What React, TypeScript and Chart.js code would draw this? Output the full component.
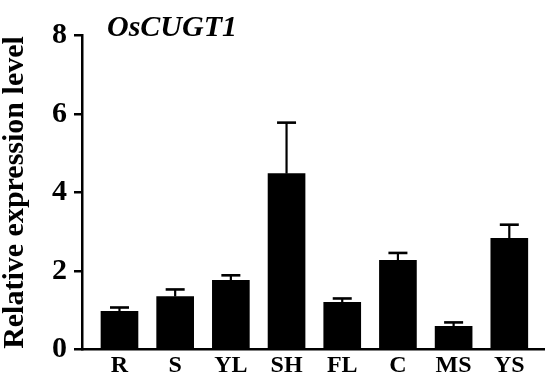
import React, { useEffect, useRef } from "react";
import { Chart, registerables } from "chart.js";

Chart.register(...registerables);

const categories = ["R", "S", "YL", "SH", "FL", "C", "MS", "YS"];
const values = [0.975, 1.35, 1.76, 4.48, 1.2, 2.27, 0.59, 2.83];
const errors = [0.095, 0.18, 0.13, 1.3, 0.1, 0.19, 0.1, 0.35];
const yTicks = [0, 2, 4, 6, 8];
const chartTitle = "OsCUGT1";
const yTitle = "Relative expression level";

const W = 545;
const H = 379;
const SERIF = "'Liberation Serif', 'Times New Roman', serif";

const errorBarPlugin = {
  id: "errorBars",
  afterDatasetsDraw(chart: any) {
    const ctx = chart.ctx;
    const xs = chart.scales.x;
    const ys = chart.scales.y;
    ctx.save();
    ctx.strokeStyle = "#000";
    values.forEach((v, i) => {
      const x = xs.getPixelForValue(i);
      const yb = ys.getPixelForValue(v);
      const yt = ys.getPixelForValue(v + errors[i]);
      ctx.lineWidth = 2.2;
      ctx.beginPath();
      ctx.moveTo(x, yb);
      ctx.lineTo(x, yt);
      ctx.stroke();
      ctx.lineWidth = 2.6;
      ctx.beginPath();
      ctx.moveTo(x - 9.5, yt);
      ctx.lineTo(x + 9.5, yt);
      ctx.stroke();
    });
    ctx.restore();
  },
};

const titlePlugin = {
  id: "cornerTitle",
  afterDraw(chart: any) {
    const ctx = chart.ctx;
    ctx.save();
    ctx.fillStyle = "#000";
    ctx.font = `italic bold 30px ${SERIF}`;
    ctx.textAlign = "left";
    ctx.textBaseline = "alphabetic";
    ctx.fillText(chartTitle, 107, 36);
    ctx.restore();
  },
};

export default function App() {
  const ref = useRef<HTMLCanvasElement | null>(null);
  useEffect(() => {
    if (!ref.current) return;
    const chart = new Chart(ref.current, {
      type: "bar",
      data: {
        datasets: [
          {
            data: values.map((v, i) => ({ x: i, y: v })),
            backgroundColor: "#000",
            borderWidth: 0,
            barThickness: 37,
          },
        ],
      },
      options: {
        animation: false,
        responsive: false,
        maintainAspectRatio: false,
        devicePixelRatio: 1,
        layout: { padding: { top: 35.5, left: 0, right: 0, bottom: 0 } },
        plugins: {
          legend: { display: false },
          tooltip: { enabled: false },
          title: { display: false },
        },
        scales: {
          x: {
            type: "linear",
            offset: false,
            min: -0.673,
            max: 7.641,
            afterBuildTicks: (s: any) => {
              s.ticks = categories.map((_, i) => ({ value: i }));
            },
            afterFit: (s: any) => {
              s.height = 29.5;
            },
            grid: { display: false, drawTicks: false, offset: false },
            border: { display: true, color: "#000", width: 2.5 },
            ticks: {
              color: "#000",
              autoSkip: false,
              maxRotation: 0,
              padding: 2,
              font: { family: SERIF, size: 24, weight: "bold" },
              callback: (v: any) => categories[v] ?? "",
            },
          },
          y: {
            min: 0,
            max: 8,
            afterBuildTicks: (s: any) => {
              s.ticks = yTicks.map((t) => ({ value: t }));
            },
            afterFit: (s: any) => {
              s.width = 82;
            },
            grid: {
              drawOnChartArea: false,
              drawTicks: true,
              tickLength: 8,
              color: "#000",
              lineWidth: 2.5,
            },
            border: { display: true, color: "#000", width: 2.5 },
            ticks: {
              color: "#000",
              padding: 7,
              font: { family: SERIF, size: 30, weight: "bold" },
            },
            title: {
              display: true,
              text: yTitle,
              color: "#000",
              padding: 0,
              font: { family: SERIF, size: 30, weight: "bold", lineHeight: 1.0 },
            },
          },
        },
      },
      plugins: [errorBarPlugin, titlePlugin],
    });
    return () => chart.destroy();
  }, []);
  return (
    <div style={{ position: "fixed", left: 0, top: 0, width: W, height: H, background: "#fff" }}>
      <canvas ref={ref} width={W} height={H} style={{ width: W, height: H, display: "block" }} />
    </div>
  );
}
